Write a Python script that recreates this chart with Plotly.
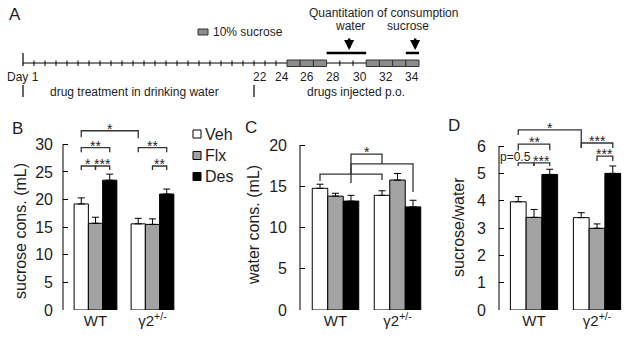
import plotly.graph_objects as go

W, H = 627, 337
FONT = "Liberation Sans, Arial, Helvetica, sans-serif"
INK = "#1e1e1e"

# ---------------- data ----------------
groups = ["WT", "γ2<sup>+/-</sup>"]
series_names = ["Veh", "Flx", "Des"]
series_colors = ["#ffffff", "#a3a3a3", "#000000"]

sucrose_veh = [19.2, 15.6]
sucrose_flx = [15.7, 15.5]
sucrose_des = [23.5, 21.0]
sucrose_veh_err = [1.1, 1.0]
sucrose_flx_err = [1.1, 1.0]
sucrose_des_err = [1.1, 0.9]

water_veh = [14.75, 13.9]
water_flx = [13.8, 15.75]
water_des = [13.2, 12.5]
water_veh_err = [0.5, 0.55]
water_flx_err = [0.35, 0.8]
water_des_err = [0.7, 0.8]

ratio_veh = [3.96, 3.38]
ratio_flx = [3.39, 2.99]
ratio_des = [4.96, 5.0]
ratio_veh_err = [0.19, 0.18]
ratio_flx_err = [0.29, 0.16]
ratio_des_err = [0.19, 0.27]

sucrose_ticks = [0, 5, 10, 15, 20, 25, 30]
water_ticks = [0, 5, 10, 15, 20]
ratio_ticks = [0, 1, 2, 3, 4, 5, 6]

# significance brackets: (from (group, series), to (group, series), label, line level, left leg end, right leg end)
sucrose_brackets = [
    ((0, 0), (1, 0), "*", 32.46, 31.3, 31.1),
    ((0, 0), (0, 2), "**", 29.39, 28.55, 28.55),
    ((0, 0), (0, 1), "*", 26.07, 25.35, 25.35),
    ((0, 1), (0, 2), "***", 26.07, 25.35, 25.35),
    ((1, 0), (1, 2), "**", 29.39, 28.55, 28.55),
    ((1, 1), (1, 2), "**", 26.07, 25.35, 25.35),
]
water_brackets = [
    ((0, 0), (1, 0), "", 16.48, 15.64, 15.76),
    ((0, 2), (1, 2), "", 17.7, 15.39, 14.3),
    ([(0, 0), (1, 0)], [(0, 2), (1, 2)], "*", 18.9, 16.48, 17.7),
]
ratio_brackets = [
    ((0, 0), (1, 0), "*", 6.59, 6.40, 5.93),
    ((0, 0), (0, 2), "**", 6.07, 5.85, 5.85),
    ((0, 0), (0, 1), "p=0.5", 5.38, 5.27, 5.27),
    ((0, 1), (0, 2), "***", 5.38, 5.27, 5.27),
    ((1, 0), (1, 2), "***", 6.11, 5.93, 5.93),
    ((1, 1), (1, 2), "***", 5.63, 5.45, 5.45),
]

# timeline (panel A)
pre_days = list(range(1, 25))            # days with tick marks before sucrose training
sucrose_days = [25, 26, 27, 31, 32, 33, 34]
window_tick_days = [29, 30]
water_quant_days = [28, 30]
sucrose_quant_days = [34, 34]
day_label_days = [22, 24, 26, 28, 30, 32, 34]
treatment_start_day = 1
injection_start_day = 22
last_day = 34


# ---------------- helpers ----------------
def fx(px):
    return px / W


def fy(py):
    return 1 - py / H


BARGAP = 0.25
BW = (1 - BARGAP) / 3


def pos(g, s):
    return g + (s - 1) * BW


def xpos(e):
    if isinstance(e, tuple):
        return pos(*e)
    return sum(pos(*p) for p in e) / len(e)


def t(d):
    return d if d <= 25 else 25 + (d - 25) * 1.2


fig = go.Figure()

panels = [
    dict(x="x", y="y", xdom=(63, 182), xr=(-0.570, 1.518), yr=(0, 35), ytop=116.7,
         means=[sucrose_veh, sucrose_flx, sucrose_des],
         errs=[sucrose_veh_err, sucrose_flx_err, sucrose_des_err],
         ticks=sucrose_ticks, standoff=9, title="sucrose cons. (mL)", title_xy=(20, 231),
         letter="B", letter_xy=(17, 128), brackets=sucrose_brackets),
    dict(x="x2", y="y2", xdom=(300, 430), xr=(-0.5726, 1.524), yr=(0, 23), ytop=120.25,
         means=[water_veh, water_flx, water_des],
         errs=[water_veh_err, water_flx_err, water_des_err],
         ticks=water_ticks, standoff=12, title="water cons. (mL)", title_xy=(253, 225),
         letter="C", letter_xy=(251, 127), brackets=water_brackets),
    dict(x="x3", y="y3", xdom=(499, 627), xr=(-0.5556, 1.476), yr=(0, 7), ytop=118.7,
         means=[ratio_veh, ratio_flx, ratio_des],
         errs=[ratio_veh_err, ratio_flx_err, ratio_des_err],
         ticks=ratio_ticks, standoff=12, title="sucrose/water", title_xy=(458, 227),
         letter="D", letter_xy=(454, 125), brackets=ratio_brackets),
]

shapes = []
annotations = []
layout_axes = {}

for p in panels:
    for s, name in enumerate(series_names):
        fig.add_trace(go.Bar(
            x=[0, 1], y=p["means"][s], name=name,
            marker=dict(color=series_colors[s], line=dict(color="black", width=1)),
            error_y=dict(type="data", array=p["errs"][s], arrayminus=[0, 0], symmetric=False,
                         color="black", thickness=1, width=3.5),
            xaxis=p["x"], yaxis=p["y"], showlegend=False,
        ))
    xk = "xaxis" + p["x"][1:]
    yk = "yaxis" + p["y"][1:]
    layout_axes[xk] = dict(domain=[fx(p["xdom"][0]), fx(p["xdom"][1])], range=list(p["xr"]),
                           tickvals=[0, 1], ticktext=groups, ticks="", showline=False,
                           showgrid=False, zeroline=False, anchor=p["y"], automargin=False,
                           tickfont=dict(size=15, color=INK, family=FONT))
    layout_axes[yk] = dict(domain=[fy(310), fy(p["ytop"])], range=list(p["yr"]),
                           tickvals=p["ticks"], ticks="inside", ticklen=5, tickwidth=1,
                           tickcolor="black", showline=False, showgrid=False, zeroline=False,
                           anchor=p["x"], ticklabelstandoff=p["standoff"], automargin=False,
                           tickfont=dict(size=16, color=INK, family=FONT))
    # y axis line up to the top tick
    shapes.append(dict(type="line", xref=p["x"] + " domain", yref=p["y"], x0=0, x1=0,
                       y0=p["ticks"][0], y1=p["ticks"][-1], line=dict(color="black", width=1)))
    # brackets
    for a, b, label, yl, ya, yb in p["brackets"]:
        xa, xb = xpos(a), xpos(b)
        shapes.append(dict(type="path", xref=p["x"], yref=p["y"],
                           path=f"M {xa},{ya} L {xa},{yl} L {xb},{yl} L {xb},{yb}",
                           line=dict(color="#333333", width=1.3)))
        if label.startswith("p="):
            annotations.append(dict(x=xb, y=yl, xref=p["x"], yref=p["y"], text=label,
                                    showarrow=False, xanchor="right", yanchor="bottom",
                                    xshift=-1, yshift=-3, font=dict(size=12, family=FONT, color=INK)))
        elif label:
            annotations.append(dict(x=(xa + xb) / 2, y=yl, xref=p["x"], yref=p["y"], text=label,
                                    showarrow=False, xanchor="center", yanchor="bottom",
                                    yshift=-7, borderpad=0,
                                    font=dict(size=14, family=FONT, color=INK)))
    annotations.append(dict(x=fx(p["title_xy"][0]), y=fy(p["title_xy"][1]), xref="paper", yref="paper",
                            text=p["title"], textangle=-90, showarrow=False,
                            xanchor="center", yanchor="middle", font=dict(size=16, family=FONT, color=INK)))
    annotations.append(dict(x=fx(p["letter_xy"][0]), y=fy(p["letter_xy"][1]), xref="paper", yref="paper",
                            text=p["letter"], showarrow=False, xanchor="center", yanchor="middle",
                            font=dict(size=17, family=FONT, color=INK)))

# legend (manual)
leg_y = [134, 155.5, 176.5]
for s, name in enumerate(series_names):
    cy = leg_y[s]
    shapes.append(dict(type="rect", xref="paper", yref="paper",
                       x0=fx(193), x1=fx(201), y0=fy(cy + 4), y1=fy(cy - 4),
                       fillcolor=series_colors[s], line=dict(color="black", width=1)))
    annotations.append(dict(x=fx(203), y=fy(cy), xref="paper", yref="paper", text=name,
                            showarrow=False, xanchor="left", yanchor="middle",
                            font=dict(size=16, family=FONT, color=INK)))

# ---------------- panel A : timeline ----------------
layout_axes["xaxis4"] = dict(domain=[0, 1], range=[1 - 23 / 11, 1 + 604 / 11], visible=False,
                             automargin=False)
layout_axes["yaxis4"] = dict(domain=[fy(101), 1], range=[101, 0], visible=False, automargin=False)

TL_Y = 63
shapes.append(dict(type="line", xref="x4", yref="y4", x0=t(treatment_start_day), x1=t(last_day + 1),
                   y0=TL_Y, y1=TL_Y, line=dict(color="black", width=1)))
shapes.append(dict(type="line", xref="x4", yref="y4", x0=t(treatment_start_day), x1=t(treatment_start_day),
                   y0=53, y1=66, line=dict(color="black", width=1.2)))
for d in pre_days[1:] + window_tick_days:
    shapes.append(dict(type="line", xref="x4", yref="y4", x0=t(d), x1=t(d), y0=60.5, y1=66,
                       line=dict(color="black", width=1)))
for d in sucrose_days:
    shapes.append(dict(type="rect", xref="x4", yref="y4", x0=t(d), x1=t(d + 1), y0=60, y1=66.5,
                       fillcolor="#8c8c8c", line=dict(color="#333333", width=1)))
for days in (water_quant_days, sucrose_quant_days):
    shapes.append(dict(type="line", xref="x4", yref="y4", x0=t(days[0]), x1=t(days[1] + 1),
                       y0=53, y1=53, line=dict(color="black", width=2.5)))
    annotations.append(dict(x=(t(days[0]) + t(days[1] + 1)) / 2 + 0.25, y=50, xref="x4", yref="y4",
                            text="", showarrow=True, ax=0, ay=-13, arrowhead=2, arrowsize=0.8,
                            arrowwidth=2.5, arrowcolor="black", standoff=0))
for d in (treatment_start_day, injection_start_day):
    shapes.append(dict(type="line", xref="x4", yref="y4", x0=t(d), x1=t(d), y0=85, y1=97,
                       line=dict(color="black", width=1.2)))

A_FONT = dict(size=12, family=FONT, color=INK)
annotations.append(dict(x=t(treatment_start_day), y=77, xref="x4", yref="y4", text="Day 1",
                        showarrow=False, xanchor="center", yanchor="middle", font=A_FONT))
for d in day_label_days:
    annotations.append(dict(x=(t(d) + t(d + 1)) / 2, y=77, xref="x4", yref="y4", text=str(d),
                            showarrow=False, xanchor="center", yanchor="middle", font=A_FONT))
annotations += [
    dict(x=fx(134), y=fy(92), xref="paper", yref="paper", text="drug treatment in drinking water",
         showarrow=False, xanchor="center", yanchor="middle", font=A_FONT),
    dict(x=fx(356), y=fy(92), xref="paper", yref="paper", text="drugs injected p.o.",
         showarrow=False, xanchor="center", yanchor="middle", font=A_FONT),
    dict(x=fx(211), y=fy(32), xref="paper", yref="paper", text="10% sucrose",
         showarrow=False, xanchor="left", yanchor="middle", font=A_FONT),
    dict(x=fx(383), y=fy(13), xref="paper", yref="paper", text="Quantitation of consumption",
         showarrow=False, xanchor="center", yanchor="middle", font=A_FONT),
    dict(x=fx(350), y=fy(26), xref="paper", yref="paper", text="water",
         showarrow=False, xanchor="center", yanchor="middle", font=A_FONT),
    dict(x=fx(408), y=fy(26), xref="paper", yref="paper", text="sucrose",
         showarrow=False, xanchor="center", yanchor="middle", font=A_FONT),
    dict(x=fx(15), y=fy(15), xref="paper", yref="paper", text="A",
         showarrow=False, xanchor="center", yanchor="middle", font=dict(size=17, family=FONT, color=INK)),
]
shapes.append(dict(type="rect", xref="paper", yref="paper", x0=fx(198), x1=fx(208), y0=fy(35), y1=fy(29),
                   fillcolor="#8c8c8c", line=dict(color="#333333", width=1)))

fig.update_layout(
    width=W, height=H, margin=dict(l=0, r=0, t=0, b=0, autoexpand=False),
    paper_bgcolor="white", plot_bgcolor="rgba(0,0,0,0)",
    barmode="group", bargap=BARGAP, bargroupgap=0, showlegend=False,
    font=dict(family=FONT, color=INK),
    shapes=shapes, annotations=annotations,
    **layout_axes,
)

fig.write_html("out.html", config={"displayModeBar": False},
               post_script="document.body.style.margin='0';document.body.style.overflow='hidden';")
